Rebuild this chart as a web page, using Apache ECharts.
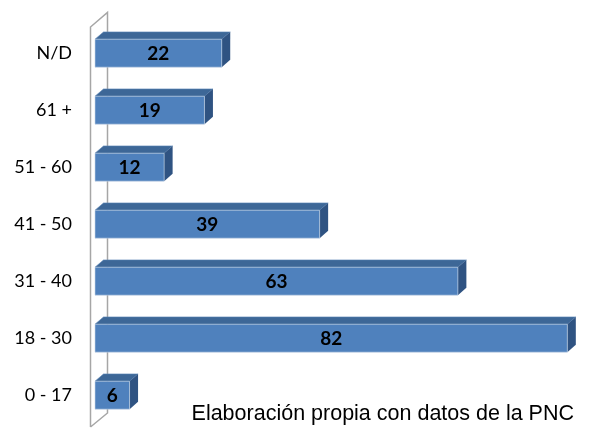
<!DOCTYPE html>
<html>
<head>
<meta charset="utf-8">
<script src="https://cdn.jsdelivr.net/npm/echarts@6/dist/echarts.min.js"></script>
<style>
html,body{margin:0;padding:0;background:#fff;}
#c{width:595px;height:432px;}
</style>
</head>
<body>
<div id="c"></div>
<script>
var categories = ['0 - 17', '18 - 30', '31 - 40', '41 - 50', '51 - 60', '61 +', 'N/D'];
var values = [6, 82, 63, 39, 12, 19, 22];
var sourceText = 'Elaboración propia con datos de la PNC';

var DX = 8.5, DY = 7.3;
var FRONT = '#4F81BD', TOP = '#3D6797', SIDE = '#2F5382';

var chart = echarts.init(document.getElementById('c'), null, {renderer: 'canvas'});

function renderBar(params, api) {
  var cat = api.value(0);
  var val = api.value(1);
  var p0 = api.coord([0, cat]);
  var p1 = api.coord([val, cat]);
  var band = api.size([0, 1])[1];
  var h = band * 0.49;
  var x0 = p0[0], x1 = p1[0];
  var yT = p0[1] - h / 2, yB = p0[1] + h / 2;
  return {
    type: 'group',
    children: [
      {type: 'polygon', shape: {points: [[x0, yT], [x0 + DX, yT - DY], [x1 + DX, yT - DY], [x1, yT]]},
        style: {fill: TOP, stroke: '#5A84B5', lineWidth: 0.6}},
      {type: 'polygon', shape: {points: [[x1, yT], [x1 + DX, yT - DY], [x1 + DX, yB - DY], [x1, yB]]},
        style: {fill: SIDE}},
      {type: 'rect', shape: {x: x0, y: yT, width: x1 - x0, height: yB - yT},
        style: {fill: FRONT, stroke: '#C9D6E8', lineWidth: 0.6}},
      {type: 'text', x: (x0 + x1) / 2, y: (yT + yB) / 2 + 1,
        style: {text: String(val), fill: '#000', font: 'bold 19px Lato', align: 'center', verticalAlign: 'middle'}}
    ]
  };
}

function renderWall(params, api) {
  var cs = params.coordSys;
  var xl = cs.x - 4.5, xr = cs.x + 12.5;
  var yt = cs.y + 2.3, yb = cs.y + cs.height + 3.3;
  var d = 14.5;
  return {
    type: 'polyline',
    shape: {points: [[xl, yb], [xl, yt], [xr, yt - d], [xr, yb - d + 0.5], [xl, yb]]},
    style: {stroke: '#A6A6A6', lineWidth: 1.5, fill: null}
  };
}

var barData = categories.map(function (c, i) { return [i, values[i]]; });

chart.setOption({
  animation: false,
  title: {
    text: sourceText,
    right: 16, bottom: 2,
    textStyle: {fontFamily: 'Liberation Sans, Arial, sans-serif', fontSize: 21.5, fontWeight: 'normal', color: '#000'}
  },
  grid: {left: 95, right: 10.4, top: 24.7, bottom: 8.3},
  xAxis: {type: 'value', min: 0, max: 85, show: false},
  yAxis: {
    type: 'category', data: categories,
    axisLine: {show: false}, axisTick: {show: false},
    axisLabel: {margin: 23, fontFamily: 'Lato', fontSize: 18, color: '#000'}
  },
  series: [
    {type: 'custom', renderItem: renderWall, data: [[0, 0]], z: 1, encode: {y: 0, x: 1}, silent: true},
    {type: 'custom', renderItem: renderBar, data: barData, encode: {y: 0, x: 1}, z: 2}
  ]
});
</script>
</body>
</html>
